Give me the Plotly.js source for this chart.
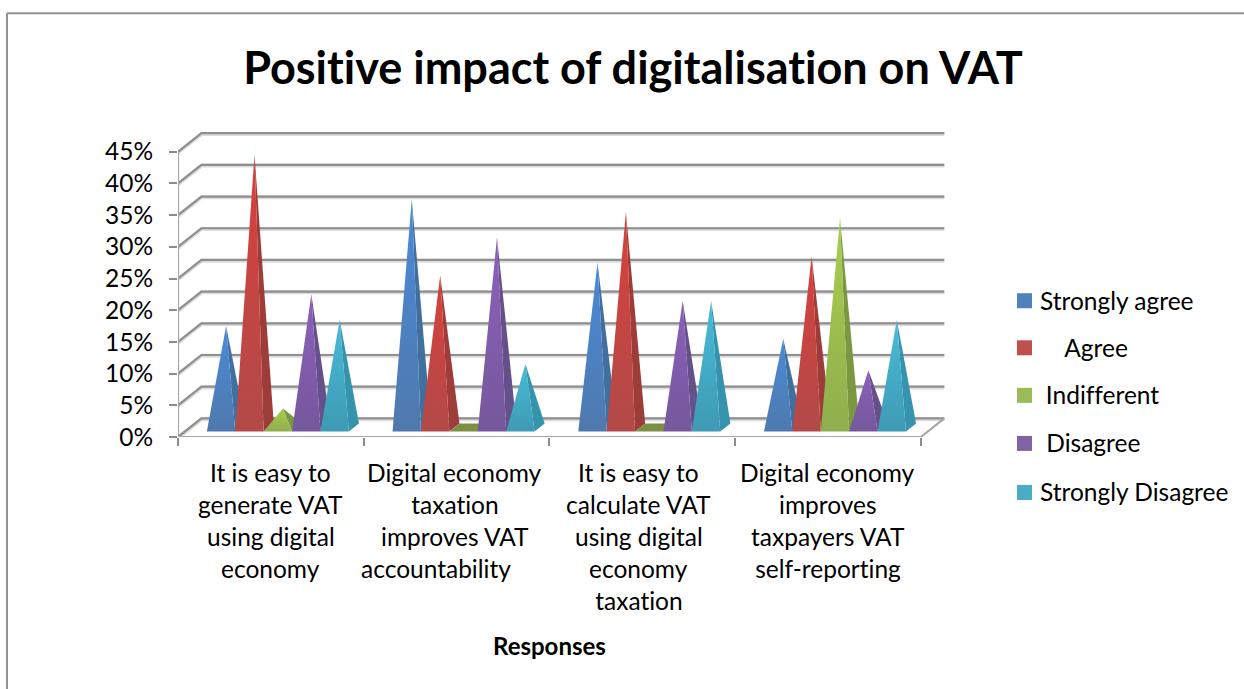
<!DOCTYPE html>
<html>
<head>
<meta charset="utf-8">
<script src="https://cdn.plot.ly/plotly-3.0.1.min.js"></script>
<style>
html,body{margin:0;padding:0;background:#fff;overflow:hidden}
#chart text{font-variant-ligatures:none !important;font-feature-settings:"liga" 0,"clig" 0 !important}
</style>
</head>
<body>
<div id="chart" style="width:1244px;height:689px"></div>
<script>
// Survey responses, in percent
const chartTitle = 'Positive impact of digitalisation on VAT';
const axisTitle = 'Responses';
const nbsp = '\u00a0';
const categoryLines = [
  ['It is easy to', 'generate VAT', 'using digital', 'economy'],
  ['Digital economy', 'taxation', 'improves VAT', 'accountability' + nbsp.repeat(6)],
  ['It is easy to', 'calculate VAT', 'using digital', 'economy', 'taxation'],
  ['Digital economy', 'improves', 'taxpayers VAT', 'self-reporting']
];
const seriesNames = ['Strongly agree', nbsp.repeat(4) + 'Agree', nbsp + 'Indifferent', nbsp + 'Disagree', 'Strongly Disagree'];
const stronglyAgree = [16, 36, 26, 14];
const agree = [43, 24, 34, 27];
const indifferent = [3, 0, 0, 33];
const disagree = [21, 30, 20, 9];
const stronglyDisagree = [17, 10, 20, 17];
const seriesValues = [stronglyAgree, agree, indifferent, disagree, stronglyDisagree];
const percentTicks = [0, 5, 10, 15, 20, 25, 30, 35, 40, 45];

const legendColors = ['#4f81bd', '#c0504d', '#9bbb59', '#8064a2', '#4bacc6'];
const faceTop = ['#4f79ad', '#b24a48', '#8fae4e', '#75589c', '#3f9ab4'];
const faceBottom = ['#4a8ad8', '#d8403c', '#a8cf4c', '#8c60bc', '#48bcd8'];
const sideColors = ['#41709f', '#9e3c3a', '#7a9841', '#665089', '#3593ad'];

// Plot frame in page pixels
const pageW = 1244, pageH = 689;
const plotL = 178, plotR = 950, plotT = 130, plotB = 436.6;
const catPx = 185.7, pctPx = 6.33;
const xMax = (plotR - plotL) / catPx, yMax = (plotB - plotT) / pctPx;

// Oblique projection of the chart depth, in axis units
const depthX = 23.5 / catPx, depthY = 18.6 / pctPx;
const px = (cat, d) => cat + d * depthX;
const py = (val, d) => val + d * depthY;

// Pyramid footprint inside one category
const gap = 21.8 / catPx, pyrW = 28.4 / catPx;
const dFront = 0.3, dBack = 0.73, dApex = 0.515;

// Horizontal centre of each category's label block, in axis units
const labelCentres = [0.5, 1.49, 2.48, 3.5];

const traces = [];

function line(xs, ys, color, w) {
  traces.push({type: 'scatter', mode: 'lines', x: xs, y: ys, hoverinfo: 'skip', showlegend: false,
    cliponaxis: false, line: {color: color, width: w}});
}
function wallLine(v, color, w) {
  line([px(0, 0), px(0, 1), px(4, 1)], [py(v, 0), py(v, 1), py(v, 1)], color, w);
}

// Gridlines on the side and back walls, with their soft shadow underneath
percentTicks.forEach(v => wallLine(v - 0.12, '#dcdcdc', 4));
percentTicks.forEach(v => wallLine(v, '#8f8f8f', 2.2));
// Floor edges and the value axis
line([px(4, 1), px(4, 0), px(0, 0)], [py(0, 1), py(0, 0), py(0, 0)], '#a6a6a6', 2.2);
line([0, 0], [0, 45], '#a6a6a6', 2.2);

function polygon(xs, ys, name, value, fill) {
  traces.push(Object.assign({type: 'scatter', mode: 'lines', x: xs, y: ys, fill: 'toself', name: name,
    text: value + '%', hoverinfo: 'name+text', hoveron: 'fills', showlegend: false,
    line: {width: 0, color: 'rgba(0,0,0,0)'}}, fill));
}

seriesValues.forEach((values, s) => {
  values.forEach((v, c) => {
    const x0 = c + gap + s * pyrW, x1 = x0 + pyrW;
    const xa = px(x0 + pyrW / 2, dApex), ya = py(v, dApex);
    const name = seriesNames[s].trim();
    if (v === 0) {
      // A zero response leaves only the square footprint on the floor
      polygon([px(x0, dFront), px(x1, dFront), px(x1, dBack), px(x0, dBack), px(x0, dFront)],
        [py(0, dFront), py(0, dFront), py(0, dBack), py(0, dBack), py(0, dFront)],
        name, v, {fillcolor: '#7c8f42'});
      return;
    }
    // Shaded right-hand face, then the lit front face over it
    polygon([px(x1, dFront), px(x1, dBack), xa, px(x1, dFront)],
      [py(0, dFront), py(0, dBack), ya, py(0, dFront)],
      name, v, {fillcolor: sideColors[s]});
    polygon([px(x0, dFront), px(x1, dFront), xa, px(x0, dFront)],
      [py(0, dFront), py(0, dFront), ya, py(0, dFront)],
      name, v, {fillgradient: {type: 'vertical', colorscale: [[0, faceTop[s]], [1, faceBottom[s]]]}});
  });
});

const xp = x => (x - plotL) / (plotR - plotL);
const yp = y => (plotB - y) / (plotB - plotT);
const annotations = [], shapes = [];

// Category labels, one annotation per line to keep the wide line spacing
categoryLines.forEach((lines, c) => {
  lines.forEach((t, i) => annotations.push({
    text: t, xref: 'x', yref: 'paper', x: labelCentres[c], y: yp(472 + i * 32), yanchor: 'middle', xanchor: 'center',
    showarrow: false, font: {family: 'Lato', size: 24.5, color: '#000'}
  }));
});
annotations.push({text: '<b>' + axisTitle + '</b>', xref: 'paper', yref: 'paper', x: xp(549), y: yp(645),
  xanchor: 'center', yanchor: 'middle', showarrow: false, font: {family: 'Lato', size: 24, color: '#000'}});

// Legend
const legendRows = [300, 347, 394.5, 442.5, 491.5];
seriesNames.forEach((n, i) => {
  shapes.push({type: 'rect', xref: 'paper', yref: 'paper', x0: xp(1017), x1: xp(1032),
    y0: yp(legendRows[i] - 7), y1: yp(legendRows[i] + 8), fillcolor: legendColors[i], line: {width: 0}});
  annotations.push({text: n, xref: 'paper', yref: 'paper', x: xp(1038), y: yp(legendRows[i]),
    xanchor: 'left', yanchor: 'middle', showarrow: false, font: {family: 'Lato', size: 24.5, color: '#000'}});
});

// Outer chart border: top and left edges
shapes.push({type: 'line', xref: 'paper', yref: 'paper', x0: xp(7), x1: xp(1244), y0: yp(13.5), y1: yp(13.5),
  line: {color: '#929292', width: 2}});
shapes.push({type: 'line', xref: 'paper', yref: 'paper', x0: xp(7), x1: xp(7), y0: yp(13.5), y1: yp(689),
  line: {color: '#929292', width: 2}});

const layout = {
  width: pageW, height: pageH, paper_bgcolor: '#fff', plot_bgcolor: 'rgba(0,0,0,0)', showlegend: false,
  hovermode: 'closest',
  margin: {l: plotL, r: pageW - plotR, t: plotT, b: pageH - plotB, pad: 0},
  title: {text: '<b>' + chartTitle + '</b>', x: 633 / pageW, xanchor: 'center', y: 1 - 68 / pageH, yanchor: 'middle',
    font: {family: 'Lato', size: 45, color: '#000'}},
  xaxis: {range: [0, xMax], tickvals: [0, 1, 2, 3, 4], showticklabels: false, ticks: 'outside', ticklen: 8,
    tickwidth: 1.5, tickcolor: '#8c8c8c', showgrid: false, zeroline: false, showline: false},
  yaxis: {range: [0, yMax], tickvals: percentTicks, ticktext: percentTicks.map(v => v + '%'), ticks: 'outside',
    ticklen: 8, tickwidth: 1.5, tickcolor: '#8c8c8c', showgrid: false, zeroline: false, showline: false,
    ticklabelstandoff: 11, tickfont: {family: 'Lato', size: 24.5, color: '#000'}},
  annotations: annotations, shapes: shapes
};

Plotly.newPlot('chart', traces, layout, {displayModeBar: false, responsive: false});
</script>
</body>
</html>
